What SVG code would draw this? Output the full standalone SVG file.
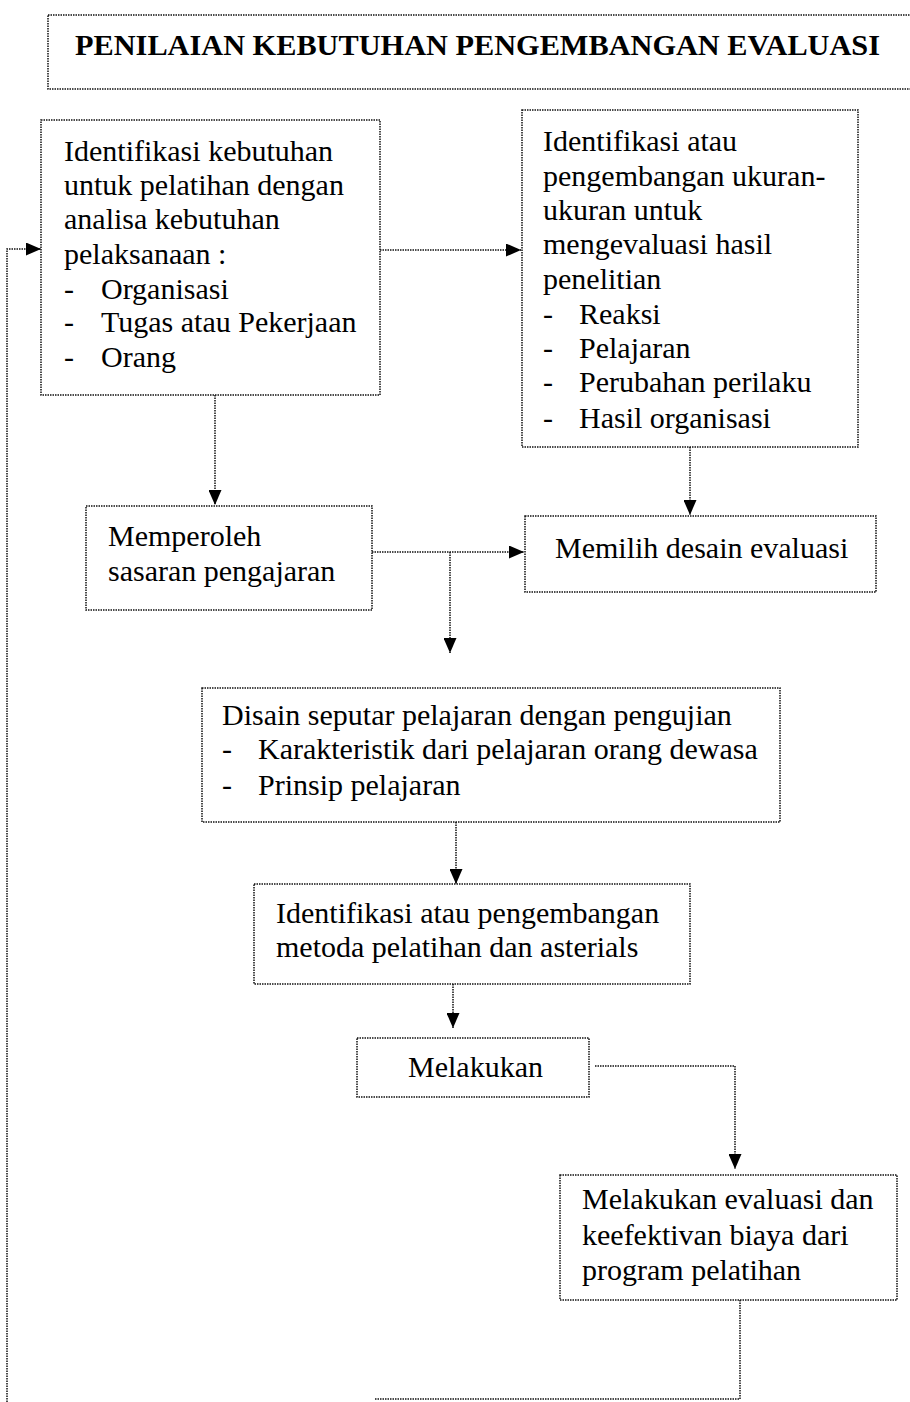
<svg xmlns="http://www.w3.org/2000/svg" width="910" height="1402" viewBox="0 0 910 1402">
<defs>
<marker id="ah" viewBox="0 0 15 13" refX="15" refY="6.5" markerWidth="15" markerHeight="13" markerUnits="userSpaceOnUse" orient="auto">
<path d="M0,0 L15,6.5 L0,13 Z" fill="#000"/>
</marker>
</defs>
<style>
.box{fill:#fff;stroke:#111;stroke-width:1.5;stroke-dasharray:1.5,1}
.con{fill:none;stroke:#111;stroke-width:1.5;stroke-dasharray:1.5,1}
.t{font-family:"Liberation Serif","Times New Roman",serif;font-size:30px;fill:#000}
.title{font-family:"Liberation Serif","Times New Roman",serif;font-size:30px;font-weight:bold;fill:#000}
</style>
<rect width="910" height="1402" fill="#fff"/>
<g id="title">
<rect class="box" x="48" y="15" width="872" height="74"/>
<text class="title" x="75" y="55" textLength="805" lengthAdjust="spacingAndGlyphs">PENILAIAN KEBUTUHAN PENGEMBANGAN EVALUASI</text>
</g>
<g id="connectors">
<path class="con" d="M380,250 H521" marker-end="url(#ah)"/>
<path class="con" d="M7,1402 V249 H41" marker-end="url(#ah)"/>
<path class="con" d="M215,395 V505" marker-end="url(#ah)"/>
<path class="con" d="M690,447 V515" marker-end="url(#ah)"/>
<path class="con" d="M372,552 H524" marker-end="url(#ah)"/>
<path class="con" d="M450,552 V653" marker-end="url(#ah)"/>
<path class="con" d="M456,822 V884" marker-end="url(#ah)"/>
<path class="con" d="M453,984 V1028" marker-end="url(#ah)"/>
<path class="con" d="M595,1066 H735 V1169" marker-end="url(#ah)"/>
<path class="con" d="M740,1300 V1399 H375"/>
</g>
<g id="n1">
<rect class="box" x="41" y="120" width="339" height="275"/>
<text class="t" x="64" y="161">Identifikasi kebutuhan</text>
<text class="t" x="64" y="195">untuk pelatihan dengan</text>
<text class="t" x="64" y="229">analisa kebutuhan</text>
<text class="t" x="64" y="264">pelaksanaan :</text>
<text class="t" x="64" y="299">-</text><text class="t" x="101" y="299">Organisasi</text>
<text class="t" x="64" y="332">-</text><text class="t" x="101" y="332">Tugas atau Pekerjaan</text>
<text class="t" x="64" y="367">-</text><text class="t" x="101" y="367">Orang</text>
</g>
<g id="n2">
<rect class="box" x="522" y="110" width="336" height="337"/>
<text class="t" x="543" y="151">Identifikasi atau</text>
<text class="t" x="543" y="186">pengembangan ukuran-</text>
<text class="t" x="543" y="220">ukuran untuk</text>
<text class="t" x="543" y="254">mengevaluasi hasil</text>
<text class="t" x="543" y="289">penelitian</text>
<text class="t" x="543" y="324">-</text><text class="t" x="579" y="324">Reaksi</text>
<text class="t" x="543" y="358">-</text><text class="t" x="579" y="358">Pelajaran</text>
<text class="t" x="543" y="392">-</text><text class="t" x="579" y="392">Perubahan perilaku</text>
<text class="t" x="543" y="428">-</text><text class="t" x="579" y="428">Hasil organisasi</text>
</g>
<g id="n3">
<rect class="box" x="86" y="506" width="286" height="104"/>
<text class="t" x="108" y="546">Memperoleh</text>
<text class="t" x="108" y="581">sasaran pengajaran</text>
</g>
<g id="n4">
<rect class="box" x="525" y="516" width="351" height="76"/>
<text class="t" x="555" y="558">Memilih desain evaluasi</text>
</g>
<g id="n5">
<rect class="box" x="202" y="688" width="578" height="134"/>
<text class="t" x="222" y="725">Disain seputar pelajaran dengan pengujian</text>
<text class="t" x="222" y="759">-</text><text class="t" x="258" y="759">Karakteristik dari pelajaran orang dewasa</text>
<text class="t" x="222" y="795">-</text><text class="t" x="258" y="795">Prinsip pelajaran</text>
</g>
<g id="n6">
<rect class="box" x="254" y="884" width="436" height="100"/>
<text class="t" x="276" y="923">Identifikasi atau pengembangan</text>
<text class="t" x="276" y="957">metoda pelatihan dan asterials</text>
</g>
<g id="n7">
<rect class="box" x="357" y="1038" width="232" height="59"/>
<text class="t" x="408" y="1077">Melakukan</text>
</g>
<g id="n8">
<rect class="box" x="560" y="1175" width="337" height="125"/>
<text class="t" x="582" y="1209">Melakukan evaluasi dan</text>
<text class="t" x="582" y="1245">keefektivan biaya dari</text>
<text class="t" x="582" y="1280">program pelatihan</text>
</g>
</svg>
